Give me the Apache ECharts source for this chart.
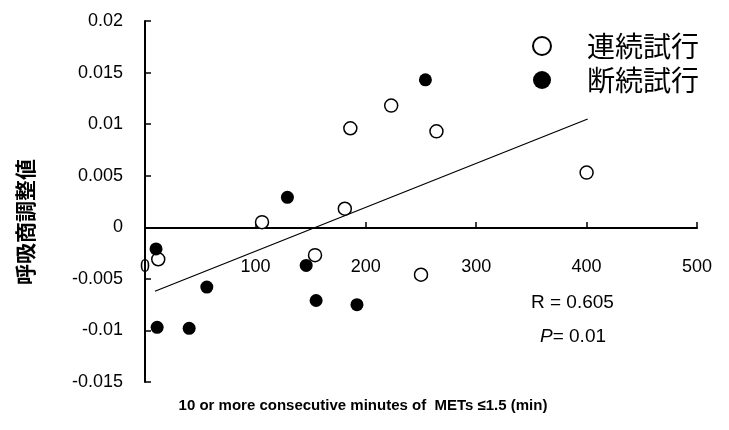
<!DOCTYPE html>
<html>
<head>
<meta charset="utf-8">
<script src="https://cdn.jsdelivr.net/npm/echarts@6/dist/echarts.min.js"></script>
<style>
  html, body { margin: 0; padding: 0; background: #fff; }
  #chart { width: 729px; height: 430px; }
</style>
</head>
<body>
<div id="chart"></div>
<script>
// 連続試行 (open circles)
var continuousX = [223, 186, 264, 181, 106, 12, 154, 250, 400];
var continuousY = [0.0118, 0.0096, 0.0093, 0.0018, 0.0005, -0.0031, -0.0027, -0.0046, 0.0053];
// 断続試行 (filled circles)
var intermittentX = [10, 129, 146, 56, 155, 192, 11, 40, 254];
var intermittentY = [-0.0021, 0.0029, -0.0037, -0.0058, -0.0071, -0.0075, -0.0097, -0.0098, 0.0143];
// regression line end points
var fitX = [9, 401];
var fitY = [-0.0062, 0.0105];

var seriesNames = ['連続試行', '断続試行'];

function pairs(xs, ys) {
    var out = [];
    for (var i = 0; i < xs.length; i++) out.push([xs[i], ys[i]]);
    return out;
}

var font = '"Liberation Sans", Arial, sans-serif';
var cjk = '"Noto Sans CJK JP", "Noto Sans CJK SC", sans-serif';

var myChart = echarts.init(document.getElementById('chart'));
var option = {
    animation: false,
    backgroundColor: '#fff',
    grid: { left: 145, right: 32, top: 21, bottom: 48 },
    legend: {
        orient: 'vertical',
        left: 532,
        top: 32,
        padding: 0,
        itemWidth: 18,
        itemHeight: 18,
        itemGap: 6,
        data: seriesNames,
        textStyle: { fontSize: 28, color: '#000', fontFamily: cjk, padding: [0, 0, 0, 31] }
    },
    xAxis: {
        type: 'value',
        min: 0,
        max: 500,
        interval: 100,
        // x axis crosses the y axis at 0 (plot height 361 px, zero is 154 px above bottom)
        offset: -154,
        axisLine: { onZero: false, lineStyle: { color: '#000', width: 2 } },
        axisTick: { inside: true, length: 6, lineStyle: { color: '#000', width: 1.5 } },
        axisLabel: { margin: 30, fontSize: 18, color: '#000', fontFamily: font },
        splitLine: { show: false }
    },
    yAxis: {
        type: 'value',
        min: -0.015,
        max: 0.02,
        interval: 0.005,
        axisLine: { show: true, onZero: false, lineStyle: { color: '#000', width: 2 } },
        axisTick: { show: true, inside: true, length: 6, lineStyle: { color: '#000', width: 1.5 } },
        axisLabel: {
            margin: 22, fontSize: 18, color: '#000', fontFamily: font,
            formatter: function (v) { return String(parseFloat(v.toFixed(3))); }
        },
        splitLine: { show: false }
    },
    series: [
        {
            name: seriesNames[0],
            type: 'scatter',
            symbol: 'circle',
            symbolSize: 13,
            itemStyle: { color: '#fff', borderColor: '#000', borderWidth: 1.5, opacity: 1 },
            data: pairs(continuousX, continuousY),
            z: 3
        },
        {
            name: seriesNames[1],
            type: 'scatter',
            symbol: 'circle',
            symbolSize: 13,
            itemStyle: { color: '#000', opacity: 1 },
            data: pairs(intermittentX, intermittentY),
            z: 3
        },
        {
            type: 'line',
            data: pairs(fitX, fitY),
            symbol: 'none',
            lineStyle: { color: '#000', width: 1.3 },
            z: 2
        }
    ],
    graphic: [
        {
            type: 'text', left: 531, top: 293,
            style: { text: 'R = 0.605', fontSize: 19, fill: '#000', fontFamily: font }
        },
        {
            type: 'text', left: 540, top: 327,
            style: {
                text: '{i|P}= 0.01', fontSize: 19, fill: '#000', fontFamily: font,
                rich: { i: { fontStyle: 'italic', fontSize: 19, fontFamily: font } }
            }
        },
        {
            type: 'text', x: 25, y: 222, rotation: Math.PI / 2,
            style: {
                text: '呼吸商調整値', fontSize: 21, fontWeight: 'bold', fill: '#000',
                fontFamily: cjk, align: 'center', verticalAlign: 'middle'
            }
        },
        {
            type: 'text', x: 363, y: 406,
            style: {
                text: '10 or more consecutive minutes of  METs \u22641.5 (min)',
                fontSize: 15, fontWeight: 'bold', fill: '#000', fontFamily: font,
                align: 'center', verticalAlign: 'middle'
            }
        }
    ]
};
myChart.setOption(option, true);
</script>
</body>
</html>
